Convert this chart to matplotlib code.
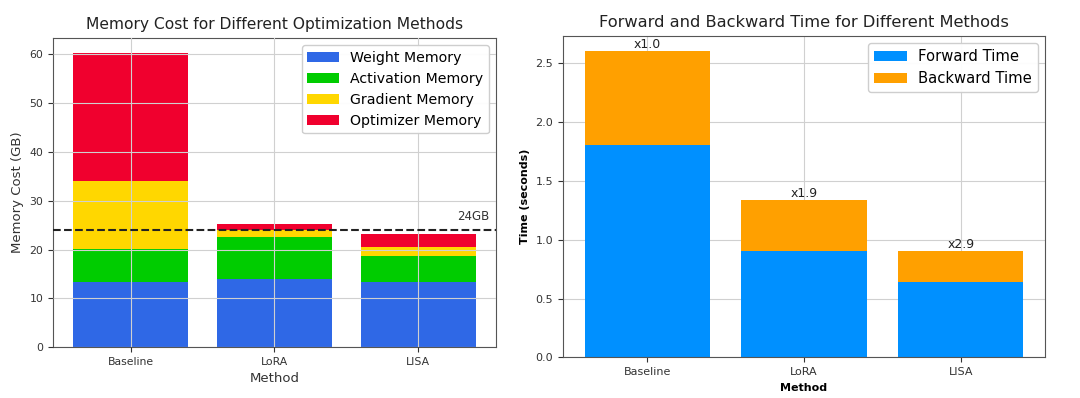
import matplotlib
matplotlib.use("Agg")
import matplotlib.pyplot as plt
import numpy as np

methods = ["Baseline", "LoRA", "LISA"]
weight_mem = [13.4, 13.9, 13.4]
activation_mem = [6.8, 8.7, 5.2]
gradient_mem = [13.9, 1.4, 2.0]
optimizer_mem = [26.3, 1.3, 2.6]
limit_gb = 24

forward_time = [1.80, 0.906, 0.643]
backward_time = [0.80, 0.429, 0.257]
speedup_labels = ["x1.0", "x1.9", "x2.9"]

fig = plt.figure(figsize=(10.8, 3.98), dpi=100)
ax1 = fig.add_axes([0.049, 0.128, 0.410, 0.777])
ax2 = fig.add_axes([0.521, 0.102, 0.447, 0.808])

x = np.arange(len(methods))
c_w, c_a, c_g, c_o = "#2F68E6", "#00CC00", "#FFD700", "#F0002E"
b = np.zeros(3)
for vals, col, lab in [(weight_mem, c_w, "Weight Memory"),
                       (activation_mem, c_a, "Activation Memory"),
                       (gradient_mem, c_g, "Gradient Memory"),
                       (optimizer_mem, c_o, "Optimizer Memory")]:
    ax1.bar(x, vals, 0.8, bottom=b, color=col, label=lab, zorder=2)
    b += np.array(vals)
ax1.axhline(limit_gb, color="#222222", linestyle="--", linewidth=1.5, zorder=3)
ax1.text(0.985, limit_gb + 1.5, "24GB", transform=ax1.get_yaxis_transform(),
         ha="right", va="bottom", fontsize=8.5, color="#333333")
ax1.set_xticks(x)
ax1.set_xticklabels(methods)
ax1.set_title("Memory Cost for Different Optimization Methods", fontsize=11.2, color="#222222")
ax1.set_xlabel("Method", fontsize=9.5, color="#333333")
ax1.set_ylabel("Memory Cost (GB)", fontsize=9.5, color="#333333")
ax1.grid(True, color="#d0d0d0", linewidth=0.8, zorder=0)
ax1.set_axisbelow(False)
ax1.legend(loc="upper right", fontsize=10.2, handlelength=2.2, framealpha=0.95)
ax1.tick_params(labelsize=7.8, colors="#333333")

c_f, c_b = "#0090FF", "#FFA000"
ax2.bar(x, forward_time, 0.8, color=c_f, label="Forward Time", zorder=2)
ax2.bar(x, backward_time, 0.8, bottom=forward_time, color=c_b, label="Backward Time", zorder=2)
tot = np.array(forward_time) + np.array(backward_time)
for xi, t, s in zip(x, tot, speedup_labels):
    ax2.text(xi, t, s, ha="center", va="bottom", fontsize=9, color="#222222")
ax2.set_xticks(x)
ax2.set_xticklabels(methods)
ax2.set_title("Forward and Backward Time for Different Methods", fontsize=11.7, color="#222222")
ax2.set_xlabel("Method", fontsize=8, fontweight="bold")
ax2.set_ylabel("Time (seconds)", fontsize=8, fontweight="bold")
ax2.grid(True, color="#d0d0d0", linewidth=0.8, zorder=0)
ax2.legend(loc="upper right", fontsize=10.6, handlelength=2.2, framealpha=0.95)
ax2.tick_params(labelsize=8, colors="#333333")

for ax in (ax1, ax2):
    for sp in ax.spines.values():
        sp.set_color("#555555")

fig.savefig("out.png", dpi=100)
